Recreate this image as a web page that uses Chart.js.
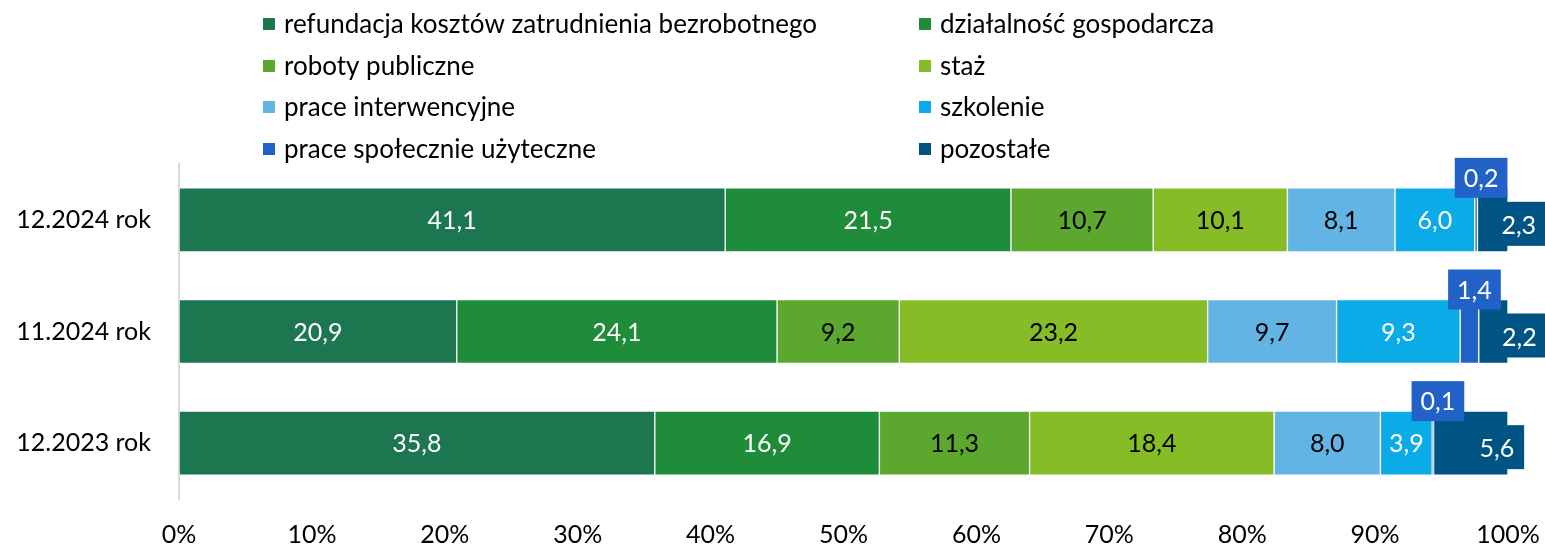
<!DOCTYPE html>
<html>
<head>
<meta charset="utf-8">
<script src="https://cdn.jsdelivr.net/npm/chart.js@4"></script>
<style>
html,body{margin:0;padding:0;background:#fff;}
canvas{display:block;}
</style>
</head>
<body>
<canvas id="c" width="1545" height="546"></canvas>
<script>
// ---- data ----
const categories = ['12.2024 rok', '11.2024 rok', '12.2023 rok'];
const seriesNames = [
  'refundacja kosztów zatrudnienia bezrobotnego',
  'działalność gospodarcza',
  'roboty publiczne',
  'staż',
  'prace interwencyjne',
  'szkolenie',
  'prace społecznie użyteczne',
  'pozostałe'
];
const refundacja = [41.1, 20.9, 35.8];
const dzialalnosc = [21.5, 24.1, 16.9];
const roboty = [10.7, 9.2, 11.3];
const staz = [10.1, 23.2, 18.4];
const interwencyjne = [8.1, 9.7, 8.0];
const szkolenie = [6.0, 9.3, 3.9];
const spoleczne = [0.2, 1.4, 0.1];
const pozostale = [2.3, 2.2, 5.6];
const xTicks = [0, 10, 20, 30, 40, 50, 60, 70, 80, 90, 100];

// ---- styles ----
const colors = ['#1C7650', '#1F8C3A', '#5CA82E', '#86BC25', '#62B4E4', '#0BABE8', '#2262C8', '#005483'];
const labelColors = ['#fff', '#fff', '#000', '#000', '#000', '#fff', '#fff', '#fff'];
const FONT = 'Lato, Carlito, Calibri, sans-serif';
const seriesData = [refundacja, dzialalnosc, roboty, staz, interwencyjne, szkolenie, spoleczne, pozostale];

const fmt = v => v.toFixed(1).replace('.', ',');

const legendPlugin = {
  id: 'gridLegend',
  afterDraw(chart) {
    const ctx = chart.ctx;
    ctx.save();
    ctx.font = '26px ' + FONT;
    ctx.textBaseline = 'middle';
    ctx.textAlign = 'left';
    const colX = [263, 919];
    const rowY = [24, 66, 107, 149];
    chart.data.datasets.forEach((ds, i) => {
      const c = i % 2, r = Math.floor(i / 2);
      ctx.fillStyle = ds.backgroundColor;
      ctx.fillRect(colX[c], rowY[r] - 6, 12, 12);
      ctx.fillStyle = '#000';
      ctx.fillText(ds.label, colX[c] + 21, rowY[r] + 1);
    });
    ctx.restore();
  }
};

const labelPlugin = {
  id: 'barLabels',
  afterDatasetsDraw(chart) {
    const ctx = chart.ctx;
    ctx.save();
    ctx.font = '25px ' + FONT;
    ctx.textAlign = 'center';
    ctx.textBaseline = 'middle';
    chart.data.datasets.forEach((ds, i) => {
      const meta = chart.getDatasetMeta(i);
      meta.data.forEach((bar, j) => {
        const v = ds.data[j];
        const txt = fmt(v);
        const left = Math.min(bar.x, bar.base), right = Math.max(bar.x, bar.base);
        const cx = (left + right) / 2;
        const top = bar.y - bar.height / 2;
        const w = ctx.measureText(txt).width;
        if (i === 6) {
          const bx = cx + 5;
          const bw = w + 18, bh = 40;
          const by = top + 10 - bh;
          ctx.fillStyle = ds.backgroundColor;
          ctx.fillRect(bx - bw / 2, by, bw, bh);
          ctx.fillStyle = '#fff';
          ctx.fillText(txt, bx, by + bh / 2 + 1);
        } else if (i === 7) {
          const tx = cx + 26;
          const bw = w + 20, bh = 44;
          const by = bar.y + 4 - bh / 2;
          ctx.fillStyle = ds.backgroundColor;
          ctx.fillRect(Math.max(left, tx - bw / 2), by, tx + bw / 2 - Math.max(left, tx - bw / 2), bh);
          ctx.fillStyle = '#fff';
          ctx.fillText(txt, tx, bar.y + 6);
        } else {
          ctx.fillStyle = labelColors[i];
          ctx.fillText(txt, cx, bar.y + 1);
        }
      });
    });
    ctx.restore();
  }
};

new Chart(document.getElementById('c'), {
  type: 'bar',
  data: {
    labels: categories,
    datasets: seriesNames.map((name, i) => ({
      label: name,
      data: seriesData[i],
      backgroundColor: colors[i],
      borderColor: '#ffffff',
      borderWidth: 1,
      borderSkipped: false,
      barThickness: 64
    }))
  },
  options: {
    indexAxis: 'y',
    responsive: false,
    animation: false,
    layout: { padding: { top: 164, right: 37, left: 0, bottom: 0 } },
    plugins: { legend: { display: false }, tooltip: { enabled: false } },
    scales: {
      x: {
        stacked: true,
        min: 0, max: 100,
        afterBuildTicks: s => { s.ticks = xTicks.map(v => ({ value: v })); },
        grid: { display: false },
        border: { display: false },
        ticks: { callback: v => v + '%', color: '#000', font: { family: FONT, size: 25 }, padding: 13, maxRotation: 0 },
        afterFit: s => { s.height = 47; s.paddingLeft = 0; s.paddingRight = 0; }
      },
      y: {
        stacked: true,
        grid: { display: false },
        border: { display: true, color: '#D9D9D9', width: 2 },
        ticks: { color: '#000', font: { family: FONT, size: 25 }, padding: 20 },
        afterFit: s => { s.width = 179; s.paddingTop = 0; s.paddingBottom = 0; }
      }
    }
  },
  plugins: [labelPlugin, legendPlugin]
});
</script>
</body>
</html>
